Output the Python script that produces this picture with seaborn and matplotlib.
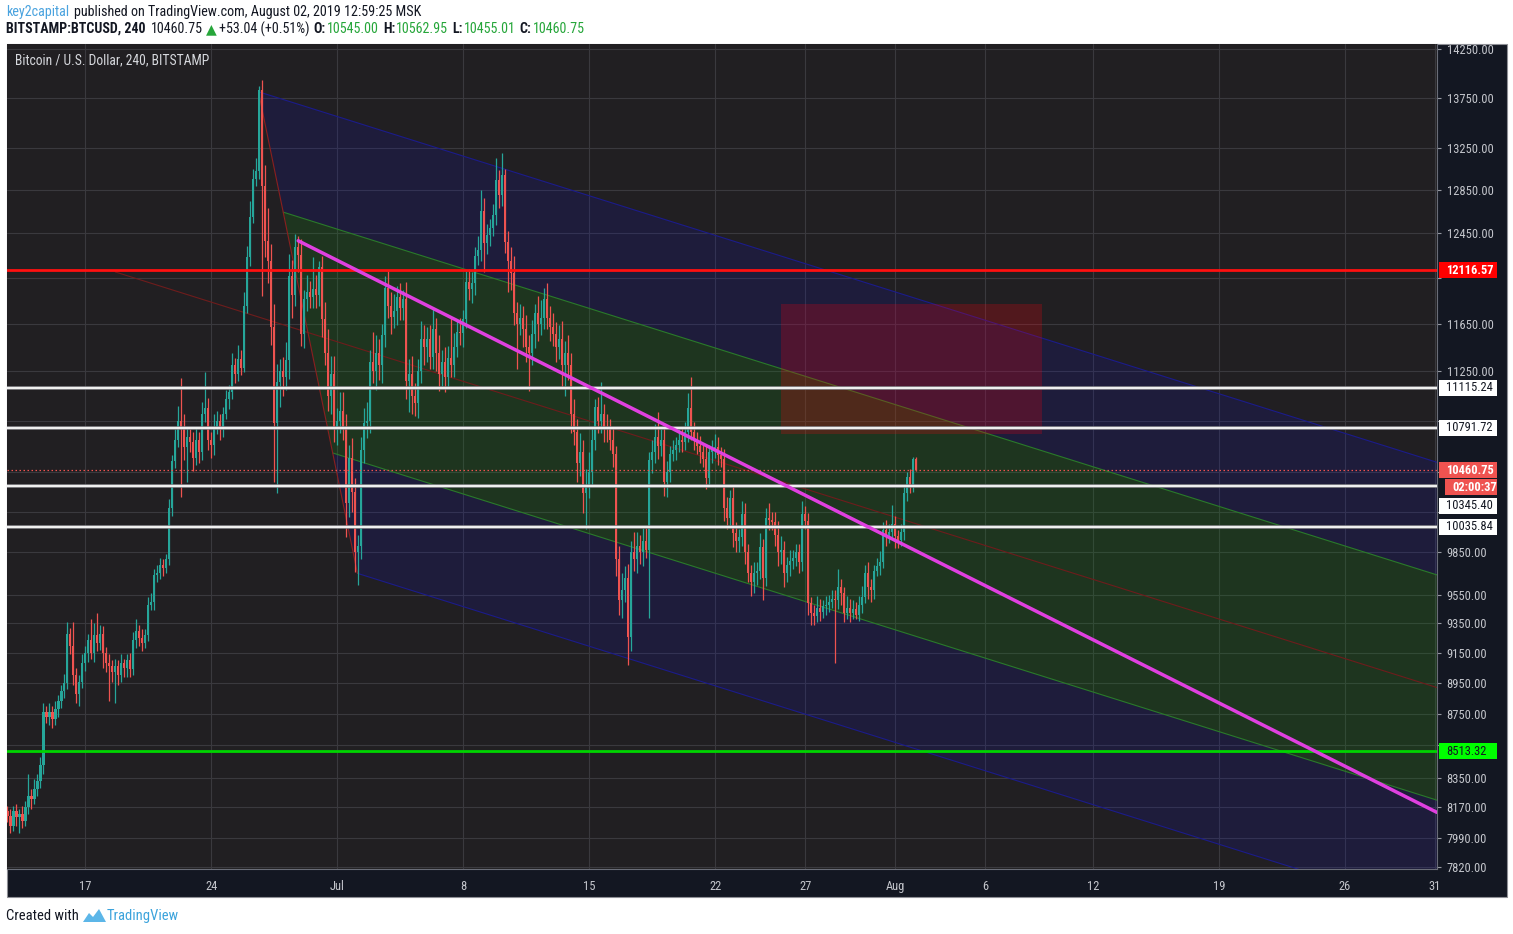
import numpy as np
import pandas as pd
import matplotlib
matplotlib.use("Agg")
import matplotlib.pyplot as plt
import matplotlib.dates as mdates
from matplotlib.patches import Rectangle, Polygon
from matplotlib.ticker import FixedLocator, FixedFormatter, NullLocator
from matplotlib import font_manager
import seaborn as sns

# ---------------------------------------------------------------- data
FIRST_CANDLE = "2019-06-12 16:00"      # 4h candles
FIRST_OPEN = 8150
CLOSE = [
    8120, 8060, 8150, 8110, 8130, 8090,
    8170, 8240, 8220, 8280, 8330, 8430,
    8760, 8730, 8760, 8720, 8780, 8830,
    8900, 8950, 9280, 9200, 9000, 8880,
    8960, 9080, 9150, 9240, 9150, 9270,
    9220, 9280, 9150, 9080, 9060, 9020,
    9060, 9000, 9080, 9050, 9100, 9040,
    9240, 9300, 9250, 9220, 9270, 9480,
    9500, 9690, 9700, 9760, 9740, 9800,
    10180, 10530, 10700, 10850, 10780, 10640,
    10720, 10680, 10560, 10700, 10600, 10900,
    10950, 10700, 10660, 10800, 10850, 10780,
    10900, 11020, 11080, 11300, 11230, 11350,
    11280, 11800, 12230, 12600, 12950, 13030,
    13830, 12890, 12380, 12200, 11620, 10830,
    11160, 11250, 11200, 11340, 12060, 11900,
    12320, 12250, 11560, 11860, 11920, 11880,
    11950, 11900, 12140, 11690, 11400, 11050,
    11230, 10780, 10850, 10930, 10800, 10210,
    10560, 10300, 9850, 9900, 10620, 10830,
    10850, 11330, 11250, 11400, 11300, 11550,
    11960, 11800, 11710, 11760, 11880, 11780,
    11860, 11170, 11230, 11050, 10990, 11250,
    11520, 11450, 11520, 11370, 11600, 11400,
    11230, 11330, 11200, 11360, 11300, 11450,
    11580, 11570, 11690, 12010, 11950, 12000,
    12240, 12300, 12650, 12360, 12430, 12500,
    12620, 12940, 12800, 12990, 12370, 12200,
    12090, 11740, 11650, 11700, 11600, 11450,
    11400, 11560, 11740, 11650, 11700, 11860,
    11700, 11620, 11560, 11450, 11520, 11300,
    11400, 11300, 10900, 10760, 10520, 10600,
    10290, 10350, 10450, 10700, 10960, 10850,
    10900, 10800, 10780, 10700, 10590, 9800,
    9510, 9580, 9670, 9260, 9850, 9800,
    9900, 9850, 9930, 9870, 10540, 10600,
    10720, 10650, 10700, 10370, 10450, 10590,
    10620, 10660, 10700, 10680, 10760, 10950,
    10760, 10700, 10650, 10600, 10550, 10400,
    10600, 10620, 10640, 10580, 10550, 10180,
    10100, 10250, 9990, 9930, 9960, 10130,
    9850, 9700, 9640, 9700, 9720, 9890,
    9670, 10100, 10090, 10070, 9980, 9850,
    9870, 9700, 9760, 9790, 9810, 9850,
    9780, 10130, 10080, 9490, 9420, 9400,
    9460, 9430, 9470, 9480, 9500, 9520,
    9510, 9600, 9560, 9420, 9460, 9420,
    9450, 9410, 9480, 9530, 9700, 9600,
    9580, 9720, 9750, 9780, 10010, 9980,
    10000, 10060, 9970, 9940, 10000, 10290,
    10410, 10340, 10545, 10460.75,
]
UPPER_WICK = [
    30, 40, 30, 40, 30, 50,
    40, 130, 40, 60, 40, 50,
    60, 40, 60, 40, 50, 40,
    40, 60, 80, 40, 160, 50,
    40, 60, 50, 40, 140, 80,
    150, 60, 50, 40, 60, 40,
    50, 40, 60, 30, 40, 50,
    50, 80, 40, 60, 40, 50,
    60, 40, 60, 50, 40, 40,
    60, 50, 80, 120, 345, 120,
    80, 60, 80, 100, 60, 100,
    290, 80, 60, 100, 80, 50,
    60, 80, 60, 100, 60, 120,
    80, 120, 100, 150, 100, 120,
    40, 100, 200, 300, 150, 200,
    150, 100, 120, 150, 200, 150,
    120, 100, 150, 80, 150, 100,
    280, 120, 60, 100, 150, 200,
    150, 150, 100, 150, 150, 100,
    100, 150, 100, 80, 100, 120,
    150, 100, 250, 150, 120, 100,
    100, 150, 120, 150, 100, 120,
    80, 150, 120, 150, 100, 100,
    150, 120, 100, 120, 190, 100,
    150, 100, 120, 100, 350, 120,
    100, 120, 80, 100, 120, 100,
    80, 120, 200, 120, 100, 80,
    100, 210, 100, 210, 60, 100,
    120, 150, 100, 120, 100, 120,
    100, 120, 80, 150, 150, 100,
    140, 100, 120, 100, 120, 150,
    100, 150, 100, 120, 100, 150,
    100, 120, 150, 100, 60, 80,
    260, 80, 100, 80, 100, 60,
    100, 120, 80, 100, 80, 150,
    100, 80, 100, 100, 60, 100,
    100, 200, 80, 100, 80, 60,
    80, 60, 80, 100, 80, 120,
    250, 80, 60, 80, 60, 100,
    60, 80, 100, 80, 60, 80,
    80, 60, 100, 80, 60, 100,
    80, 60, 60, 80, 60, 100,
    60, 80, 110, 60, 80, 100,
    100, 60, 60, 80, 60, 60,
    60, 100, 60, 60, 40, 60,
    80, 60, 40, 60, 50, 60,
    60, 130, 60, 40, 80, 60,
    60, 50, 60, 80, 60, 80,
    60, 40, 60, 80, 60, 80,
    60, 140, 60, 40, 60, 60,
    40, 60, 18, 17.95,
]
LOWER_WICK = [
    40, 40, 30, 50, 90, 40,
    30, 40, 60, 30, 40, 40,
    60, 40, 50, 60, 40, 50,
    40, 50, 40, 60, 60, 60,
    80, 40, 50, 60, 40, 60,
    60, 50, 100, 60, 230, 60,
    200, 60, 40, 60, 60, 50,
    40, 60, 50, 55, 40, 40,
    40, 60, 50, 40, 60, 40,
    40, 60, 50, 60, 520, 100,
    265, 80, 100, 60, 80, 60,
    60, 80, 100, 80, 60, 80,
    60, 40, 80, 60, 80, 60,
    60, 40, 60, 80, 60, 60,
    80, 1000, 150, 200, 150, 460,
    540, 200, 150, 100, 150, 200,
    100, 150, 100, 120, 100, 100,
    100, 120, 100, 150, 100, 120,
    150, 100, 120, 100, 100, 250,
    100, 150, 140, 230, 100, 100,
    120, 100, 100, 150, 120, 150,
    100, 100, 150, 100, 120, 100,
    100, 150, 250, 150, 100, 120,
    100, 150, 120, 100, 100, 150,
    140, 100, 120, 80, 100, 100,
    80, 100, 120, 80, 100, 120,
    100, 80, 100, 260, 100, 100,
    80, 100, 120, 100, 100, 280,
    150, 100, 380, 100, 150, 120,
    310, 100, 120, 150, 100, 100,
    100, 120, 100, 120, 100, 180,
    250, 120, 150, 100, 150, 100,
    150, 270, 100, 100, 80, 100,
    100, 120, 100, 80, 100, 120,
    100, 120, 80, 190, 100, 80,
    100, 80, 100, 60, 480, 100,
    80, 100, 80, 100, 110, 80,
    60, 80, 60, 80, 60, 80,
    60, 80, 60, 80, 60, 80,
    60, 80, 60, 80, 60, 100,
    80, 60, 100, 80, 80, 60,
    80, 60, 100, 80, 80, 60,
    160, 60, 80, 60, 80, 100,
    80, 100, 60, 80, 60, 60,
    80, 60, 60, 80, 80, 60,
    40, 60, 40, 60, 50, 40,
    430, 60, 80, 60, 40, 60,
    40, 30, 40, 60, 40, 80,
    80, 60, 40, 60, 40, 80,
    60, 40, 90, 60, 40, 60,
    60, 50, 40, 5.74,
]

X_RANGE = ["2019-06-12 15:40", "2019-08-31 02:40"]
Y_RANGE = [7809, 14302]
X_TICK_DATES = ["2019-06-17", "2019-06-24", "2019-07-01", "2019-07-08", "2019-07-15",
                "2019-07-22", "2019-07-27", "2019-08-01", "2019-08-06", "2019-08-12",
                "2019-08-19", "2019-08-26", "2019-08-31"]
X_TICK_LABELS = ["17", "24", "Jul", "8", "15", "22", "27", "Aug", "6", "12", "19", "26", "31"]
Y_TICKS = [14250, 13750, 13250, 12850, 12450, 12050, 11650, 11250, 10850, 10450, 10150,
           9850, 9550, 9350, 9150, 8950, 8750, 8550, 8350, 8170, 7990, 7820]
# tick values whose labels sit under a price tag on the axis
Y_TICKS_COVERED = [12050, 10850, 10450, 10150, 8550]

LEVEL_RED = 12116.57
LEVEL_WHITE = [11115.24, 10791.72, 10345.40, 10035.84]
LEVEL_GREEN = 8513.32
LAST_PRICE = 10460.75
COUNTDOWN = "02:00:37"

PITCHFORK = [("2019-06-18 16:00", 12100), ("2019-06-26 15:00", 13810), ("2019-07-02 03:00", 9700)]
TRENDLINE_T = ["2019-06-28 20:00", "2019-08-31 02:40"]
TRENDLINE_P = [12380, 8140]
ZONE_T = ["2019-07-25 16:00", "2019-08-09 04:00"]
ZONE_P = [10745, 11820]

HEADER1 = [("key2capital", "#4aa3df", "normal"),
           ("published on TradingView.com, August 02, 2019 12:59:25 MSK", "#131722", "normal")]
HEADER2 = [("BITSTAMP:BTCUSD, 240", "#131722", "bold"),
           ("10460.75", "#131722", "normal"),
           ("\u25B2", "#26a63a", "normal"),
           ("+53.04 (+0.51%)", "#131722", "normal"),
           ("O:", "#131722", "bold"), ("10545.00", "#26a63a", "normal"),
           ("H:", "#131722", "bold"), ("10562.95", "#26a63a", "normal"),
           ("L:", "#131722", "bold"), ("10455.01", "#26a63a", "normal"),
           ("C:", "#131722", "bold"), ("10460.75", "#26a63a", "normal")]
HEADER2_GAPS = [5, 3, 3, 4, 1, 4, 1, 4, 1, 4, 1]
TITLE = "Bitcoin / U.S. Dollar, 240, BITSTAMP"

# ---------------------------------------------------------------- style
sns.set_style("dark")
names = {f.name for f in font_manager.fontManager.ttflist}
def pick(*cands):
    for c in cands:
        if c in names:
            return c
    return "DejaVu Sans"
FONT = pick("Liberation Sans Narrow", "Roboto Condensed", "Roboto", "DejaVu Sans")
NARROW = FONT in ("Liberation Sans Narrow", "Roboto Condensed")
plt.rcParams["font.family"] = [FONT, "DejaVu Sans"]
FS_AX = 9.0 if NARROW else 7.8
FS_HEAD = 10.5 if NARROW else 8.6

W, H = 1513, 934
fig = plt.figure(figsize=(W / 100, H / 100), dpi=100, facecolor="white")
BG_PLOT = "#211f22"
BG_AXIS = "#131722"

fig.patches.append(Rectangle((7 / W, 1 - 897 / H), 1500 / W, 853 / H, transform=fig.transFigure,
                             facecolor=BG_AXIS, edgecolor="#8f9096", lw=0.8, zorder=-1))
ax = fig.add_axes([7 / W, 1 - 869 / H, 1430 / W, 825 / H])
ax.set_facecolor(BG_PLOT)

xnum = lambda t: mdates.date2num(pd.Timestamp(t))
x0, x1 = xnum(X_RANGE[0]), xnum(X_RANGE[1])

# ---------------------------------------------------------------- pitchfork
P = [np.array([xnum(t), np.log(p)]) for t, p in PITCHFORK]
p1, p2, p3 = P
mid = (p2 + p3) / 2
dvec = mid - p1
def S(t):
    return p3 + t * (p2 - p3)
def E(pt):
    k = (x1 - pt[0]) / dvec[0]
    return pt + k * dvec
def pts(*arr):
    return [(a[0], np.exp(a[1])) for a in arr]

BLUE_FILL = (10 / 255, 10 / 255, 230 / 255, 0.13)
GREEN_FILL = (20 / 255, 150 / 255, 20 / 255, 0.19)
levels = [1.0, 0.75, 0.5, 0.25, 0.0]
fills = [BLUE_FILL, GREEN_FILL, GREEN_FILL, BLUE_FILL]
for (ta, tb), fc in zip(zip(levels[:-1], levels[1:]), fills):
    a, b = S(ta), S(tb)
    ax.add_patch(Polygon(pts(a, b, E(b), E(a)), closed=True, facecolor=fc, edgecolor="none", zorder=1))
for t, col in [(1.0, "#1b1b8a"), (0.75, "#2a7a2a"), (0.25, "#2a7a2a"), (0.0, "#1b1b8a")]:
    a = S(t)
    xy = pts(a, E(a))
    ax.plot([xy[0][0], xy[1][0]], [xy[0][1], xy[1][1]], color=col, lw=0.8, zorder=2)
xy = pts(p1, E(mid))
ax.plot([xy[0][0], xy[1][0]], [xy[0][1], xy[1][1]], color="#6e1c1c", lw=0.8, zorder=2)
xy = pts(p2, p3)
ax.plot([xy[0][0], xy[1][0]], [xy[0][1], xy[1][1]], color="#8a1f1f", lw=0.8, zorder=2)

# ---------------------------------------------------------------- zone rectangle
zx0, zx1 = xnum(ZONE_T[0]), xnum(ZONE_T[1])
ax.add_patch(Rectangle((zx0, ZONE_P[0]), zx1 - zx0, ZONE_P[1] - ZONE_P[0],
                       facecolor=(1.0, 0.0, 0.05, 0.22), edgecolor="none", zorder=3))

# ---------------------------------------------------------------- candles
times = pd.date_range(FIRST_CANDLE, periods=len(CLOSE), freq="4h")
cx = mdates.date2num(times)
c = np.array(CLOSE, dtype=float)
o = np.concatenate([[FIRST_OPEN], c[:-1]])
hi = np.maximum(o, c) + np.array(UPPER_WICK, dtype=float)
lo = np.minimum(o, c) - np.array(LOWER_WICK, dtype=float)
up = c >= o
cols = np.where(up, "#26a69a", "#ef5350")
ax.vlines(cx, lo, hi, colors=cols, lw=0.9, zorder=4)
ax.bar(cx, np.maximum(np.abs(c - o), 8), bottom=np.minimum(o, c), width=0.14,
       color=cols, linewidth=0, zorder=5)

# ---------------------------------------------------------------- horizontal levels
ax.axhline(LEVEL_RED, color="#ff1010", lw=2.0, zorder=6)
for lv in LEVEL_WHITE:
    ax.axhline(lv, color="#8c8c90", lw=2.6, zorder=6)
    ax.axhline(lv, color="#f2f2f2", lw=1.4, zorder=6)
ax.axhline(LEVEL_GREEN, color="#00d400", lw=2.0, zorder=6)
ax.axhline(LAST_PRICE, color="#ef5350", lw=0.9, ls=(0, (1.2, 2.0)), zorder=6)

# ---------------------------------------------------------------- trendline (seaborn)
sns.lineplot(x=[xnum(t) for t in TRENDLINE_T], y=TRENDLINE_P, ax=ax, color="#e040e0",
             lw=2.5, zorder=7, legend=False)

# ---------------------------------------------------------------- axes
ax.set_yscale("log")
ax.set_xlim(x0, x1)
ax.set_ylim(*Y_RANGE)
ax.set_xlabel("")
ax.set_ylabel("")
ax.xaxis.set_major_locator(FixedLocator([xnum(t) for t in X_TICK_DATES]))
ax.xaxis.set_major_formatter(FixedFormatter(X_TICK_LABELS))
ax.yaxis.set_major_locator(FixedLocator(Y_TICKS))
ax.yaxis.set_major_formatter(FixedFormatter(["" if v in Y_TICKS_COVERED else f"{v:.2f}" for v in Y_TICKS]))
ax.yaxis.set_minor_locator(NullLocator())
ax.xaxis.set_minor_locator(NullLocator())
ax.yaxis.tick_right()
ax.grid(True, color="#3a393e", lw=0.8, zorder=0)
ax.set_axisbelow(True)
ax.tick_params(axis="y", which="major", direction="out", length=3, width=0.8, color="#9598a1",
               labelcolor="#c4c6cc", labelsize=FS_AX, pad=4)
ax.tick_params(axis="x", which="major", direction="out", length=3, width=0.8, color="#9598a1",
               labelcolor="#c4c6cc", labelsize=FS_AX, pad=5)
for s in ["top", "left"]:
    ax.spines[s].set_visible(False)
for s in ["right", "bottom"]:
    ax.spines[s].set_color("#6a6d78")
    ax.spines[s].set_linewidth(0.8)

ax.text(8 / 1430, 1 - 16 / 825, TITLE, transform=ax.transAxes, color="#d6d8dd",
        fontsize=FS_AX + 0.8, ha="left", va="center", zorder=9)

# ---------------------------------------------------------------- price labels on axis
def price_box(price, text, fc, tc, dy=0, bx=1439, bw=58, weight="normal"):
    yd = ax.transData.transform((x0, price))[1] - dy
    h = 16
    fig.patches.append(Rectangle((bx / W, (yd - h / 2) / H), bw / W, h / H, transform=fig.transFigure,
                                 facecolor=fc, edgecolor="none", zorder=10))
    fig.text((bx + 7) / W, yd / H, text, color=tc, fontsize=FS_AX, ha="left", va="center",
             fontweight=weight, zorder=11)

price_box(LEVEL_RED, f"{LEVEL_RED:.2f}", "#ff0000", "white", weight="bold")
price_box(LEVEL_WHITE[0], f"{LEVEL_WHITE[0]:.2f}", "white", "#131722")
price_box(LEVEL_WHITE[1], f"{LEVEL_WHITE[1]:.2f}", "white", "#131722")
price_box(LEVEL_WHITE[2], f"{LEVEL_WHITE[2]:.2f}", "white", "#131722", dy=20)
price_box(LEVEL_WHITE[3], f"{LEVEL_WHITE[3]:.2f}", "white", "#131722")
price_box(LAST_PRICE, f"{LAST_PRICE:.2f}", "#ef5350", "white", weight="bold")
price_box(LAST_PRICE, COUNTDOWN, "#ef5350", "white", dy=17, bx=1445, bw=52, weight="bold")
price_box(LEVEL_GREEN, f"{LEVEL_GREEN:.2f}", "#00ff00", "#131722")

# ---------------------------------------------------------------- header / footer
renderer = fig.canvas.get_renderer()

def text_run(parts, gaps, x_start, x_end, y_px, size):
    """Place coloured pieces one after another; scale the size so the run ends at x_end."""
    def widths(sz):
        out = []
        for s, col, wt in parts:
            t = fig.text(0, 0, s, fontsize=sz, fontweight=wt)
            out.append(t.get_window_extent(renderer).width)
            t.remove()
        return out
    w = widths(size)
    total = sum(w) + sum(gaps)
    size2 = size * (x_end - x_start - sum(gaps)) / (total - sum(gaps))
    w = widths(size2)
    x = x_start
    for i, (s, col, wt) in enumerate(parts):
        fig.text(x / W, 1 - y_px / H, s, color=col, fontsize=size2, fontweight=wt,
                 ha="left", va="center")
        x += w[i] + (gaps[i] if i < len(gaps) else 0)

text_run(HEADER1, [5], 6, 427, 12, FS_HEAD)
text_run(HEADER2, HEADER2_GAPS, 6, 590, 29, FS_HEAD)

fig.text(6 / W, 1 - 916 / H, "Created with", color="#131722", fontsize=FS_HEAD, ha="left", va="center")
logo = [(83, 922), (89, 913), (93, 917), (99, 909), (106, 922)]
fig.patches.append(Polygon([(px / W, 1 - py / H) for px, py in logo], closed=True,
                           transform=fig.transFigure, facecolor="#5cb6e8", edgecolor="none"))
fig.text(107 / W, 1 - 916 / H, "TradingView", color="#3ba3dc", fontsize=FS_HEAD, ha="left", va="center")

fig.savefig("out.png", dpi=100, facecolor="white")
